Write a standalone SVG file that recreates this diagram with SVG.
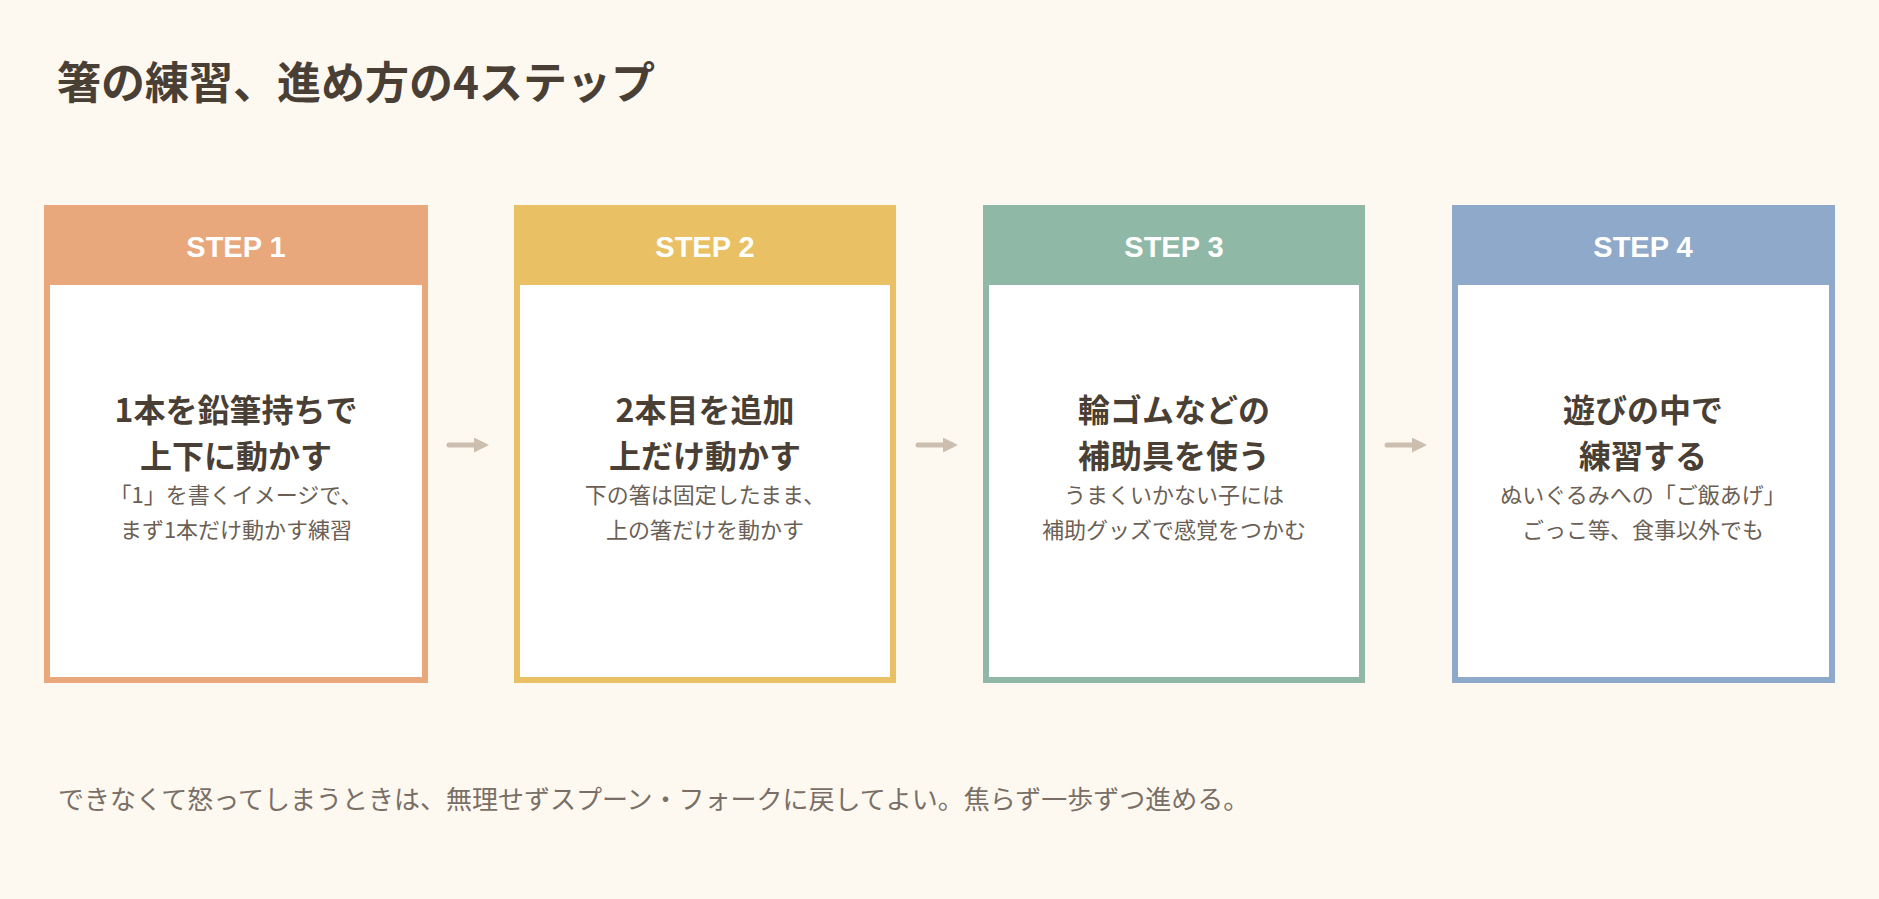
<svg xmlns="http://www.w3.org/2000/svg" width="1879" height="899" viewBox="0 0 1879 899">
<style>
text{font-family:"Noto Sans CJK JP","Noto Sans",sans-serif}
.t{font-size:44px;font-weight:700;fill:#4A3F35}
.h{font-size:29px;font-weight:700;fill:#fff;text-anchor:middle;font-family:"Liberation Sans",sans-serif}
.m{font-size:32px;font-weight:700;fill:#4A3F35;text-anchor:middle}
.s{font-size:22px;fill:#6B5F55;text-anchor:middle}
.f{font-size:26px;fill:#7A6F66}
.box{fill:#fff;stroke-width:6}
.arr{stroke:#CDBFB0;stroke-width:5;stroke-linecap:round;fill:none}
</style>
<defs><marker id="ah" viewBox="0 0 10 10" refX="6" refY="5" markerWidth="3" markerHeight="3" orient="auto"><path d="M0,0L10,5L0,10z" fill="#CDBFB0"/></marker></defs>
<rect width="1879" height="899" fill="#FDF9F1"/>
<text class="t" x="57" y="99">箸の練習、進め方の4ステップ</text>
<g id="step1"><rect class="box" x="47" y="208" width="378" height="472" stroke="#E8A87C"/><rect x="44" y="205" width="384" height="80" fill="#E8A87C"/><text class="h" x="236" y="257">STEP 1</text><text class="m" x="236" y="422">1本を鉛筆持ちで</text><text class="m" x="236" y="468">上下に動かす</text><text class="s" x="236" y="503">「1」を書くイメージで、</text><text class="s" x="236" y="538">まず1本だけ動かす練習</text></g>
<g id="step2"><rect class="box" x="517" y="208" width="376" height="472" stroke="#E9C063"/><rect x="514" y="205" width="382" height="80" fill="#E9C063"/><text class="h" x="705" y="257">STEP 2</text><text class="m" x="705" y="422">2本目を追加</text><text class="m" x="705" y="468">上だけ動かす</text><text class="s" x="705" y="503">下の箸は固定したまま、</text><text class="s" x="705" y="538">上の箸だけを動かす</text></g>
<g id="step3"><rect class="box" x="986" y="208" width="376" height="472" stroke="#8FB8A6"/><rect x="983" y="205" width="382" height="80" fill="#8FB8A6"/><text class="h" x="1174" y="257">STEP 3</text><text class="m" x="1174" y="422">輪ゴムなどの</text><text class="m" x="1174" y="468">補助具を使う</text><text class="s" x="1174" y="503">うまくいかない子には</text><text class="s" x="1174" y="538">補助グッズで感覚をつかむ</text></g>
<g id="step4"><rect class="box" x="1455" y="208" width="377" height="472" stroke="#8EA9C9"/><rect x="1452" y="205" width="383" height="80" fill="#8EA9C9"/><text class="h" x="1643" y="257">STEP 4</text><text class="m" x="1643" y="422">遊びの中で</text><text class="m" x="1643" y="468">練習する</text><text class="s" x="1643" y="503">ぬいぐるみへの「ご飯あげ」</text><text class="s" x="1643" y="538">ごっこ等、食事以外でも</text></g>
<g id="connectors"><path class="arr" d="M449,445H483" marker-end="url(#ah)"/><path class="arr" d="M918,445H952" marker-end="url(#ah)"/><path class="arr" d="M1387,445H1421" marker-end="url(#ah)"/></g>
<text class="f" x="58" y="809">できなくて怒ってしまうときは、無理せずスプーン・フォークに戻してよい。焦らず一歩ずつ進める。</text>
</svg>
